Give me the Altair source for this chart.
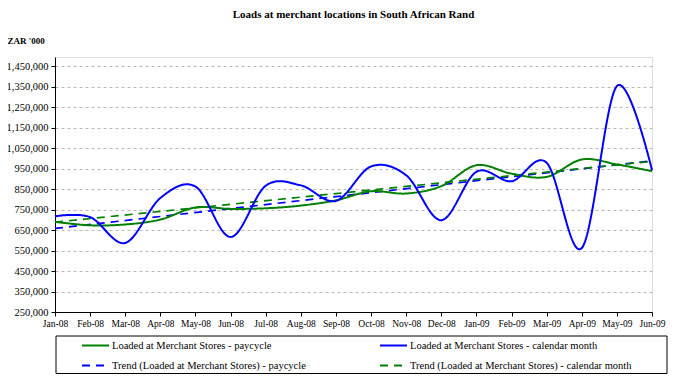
import altair as alt
import pandas as pd

months = ["Jan-08", "Feb-08", "Mar-08", "Apr-08", "May-08", "Jun-08", "Jul-08", "Aug-08", "Sep-08",
          "Oct-08", "Nov-08", "Dec-08", "Jan-09", "Feb-09", "Mar-09", "Apr-09", "May-09", "Jun-09"]
paycycle = [690000, 673000, 677000, 701000, 760000, 753000, 756000, 769000, 795000,
            839000, 828000, 864000, 966000, 925000, 909000, 994000, 970000, 937000]
calendar = [717000, 713000, 587000, 806000, 862000, 616000, 866000, 868000, 792000,
            960000, 917000, 698000, 934000, 888000, 978000, 562000, 1352000, 942000]
series_names = ["Loaded at Merchant Stores - paycycle",
                "Loaded at Merchant Stores - calendar month",
                "Trend (Loaded at Merchant Stores) - paycycle",
                "Trend (Loaded at Merchant Stores) - calendar month"]
y_ticks = [250000, 350000, 450000, 550000, 650000, 750000, 850000, 950000,
           1050000, 1150000, 1250000, 1350000, 1450000]

colors = ["#008000", "#0000FF", "#0000FF", "#008000"]
dashes = [[1, 0], [1, 0], [8, 6], [8, 6]]
FONT = "Liberation Serif, Times New Roman, DejaVu Serif, serif"

rows = []
for i, m in enumerate(months):
    rows.append({"i": i, "month": m, "series": series_names[0], "value": paycycle[i]})
    rows.append({"i": i, "month": m, "series": series_names[1], "value": calendar[i]})
raw = pd.DataFrame(rows)

label_expr = "[" + ",".join("'%s'" % m for m in months) + "][datum.value]"

legend = alt.Legend(
    orient="none", legendX=26, legendY=274, columns=2, direction="horizontal", title=None,
    symbolType="stroke", symbolSize=729, symbolStrokeWidth=2,
    labelFont=FONT, labelFontSize=10.5, labelColor="black", labelOffset=2,
    labelLimit=400, columnPadding=70, rowPadding=-4, padding=0,
)
color = alt.Color("series:N", scale=alt.Scale(domain=series_names, range=colors), legend=legend)
dash = alt.StrokeDash("series:N", scale=alt.Scale(domain=series_names, range=dashes), legend=legend)

x_enc = alt.X(
    "i:Q",
    scale=alt.Scale(domain=[0, len(months) - 1], nice=False, zero=False),
    axis=alt.Axis(values=list(range(len(months))), labelExpr=label_expr, title=None,
                  grid=False, labelAngle=0, labelFont=FONT, labelFontSize=9.5,
                  labelColor="black", domainColor="black", tickColor="black",
                  labelOverlap=False, labelFlush=False,
                  tickSize=4, labelPadding=2),
)
y_enc = alt.Y(
    "value:Q",
    scale=alt.Scale(domain=[250000, 1494000], nice=False, zero=False),
    axis=alt.Axis(values=y_ticks, format=",.0f", title="ZAR '000", titleAngle=0,
                  titleAlign="left", titleBaseline="alphabetic", titleX=-48, titleY=-14,
                  titleFont=FONT, titleFontSize=9, titleFontWeight="bold", titleColor="black",
                  labelFont=FONT, labelFontSize=10.5, labelColor="black",
                  domainColor="black", tickColor="black", tickSize=4, labelPadding=3,
                  grid=True, gridColor="#b8b8b8", gridDash=[3, 3], gridWidth=1),
)

trend = alt.Chart(raw).transform_regression(
    "i", "value", groupby=["series"]
).transform_calculate(
    series="'Trend (Loaded at Merchant Stores) - ' + (indexof(datum.series, 'paycycle') >= 0 ? 'paycycle' : 'calendar month')"
).mark_line(strokeWidth=1.7).encode(x=x_enc, y=y_enc, color=color, strokeDash=dash)

lines = alt.Chart(raw).mark_line(strokeWidth=2, interpolate="cardinal").encode(
    x=x_enc, y=y_enc, color=color, strokeDash=dash, order="i:Q"
)

frame = alt.Chart(alt.Data(values=[{"a": 1}])).mark_rect(
    fill=None, stroke="black", strokeWidth=1
).encode(x=alt.value(1), x2=alt.value(612), y=alt.value(279), y2=alt.value(316.5))

chart = alt.layer(trend, lines, frame).properties(
    width=597, height=255,
    autosize=alt.AutoSizeParams(type="none"),
    padding={"left": 47, "top": 49, "right": 27, "bottom": 63},
    title=alt.TitleParams("Loads at merchant locations in South African Rand",
                          font=FONT, fontSize=11, fontWeight="bold", color="black",
                          anchor="middle", offset=16),
).configure_view(stroke="#808080", strokeWidth=1).configure(background="white", font=FONT)

chart.save("out.html", embed_options={"renderer": "svg", "actions": False})
